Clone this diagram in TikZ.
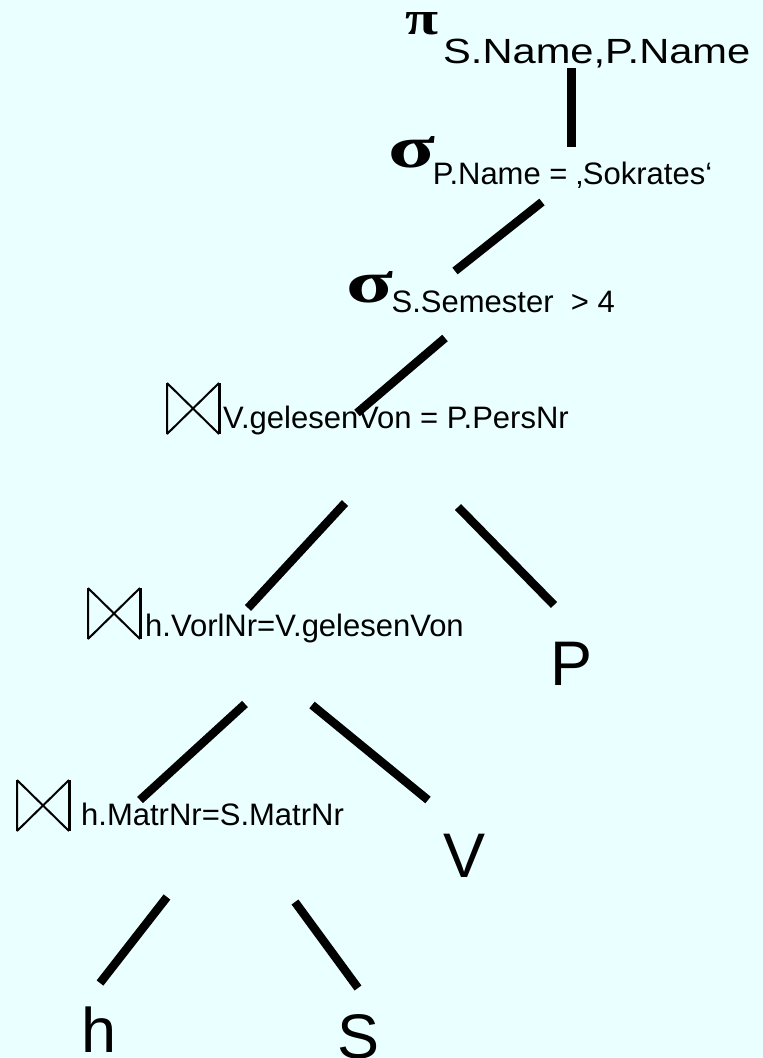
\documentclass[tikz,border=0pt]{standalone}
\usepackage{fontspec}
\setmainfont{Liberation Sans}
\newfontfamily\grk{Liberation Serif}
\definecolor{bg}{RGB}{234,255,255}
\begin{document}
\begin{tikzpicture}[x=1pt,y=-1pt,
  edge/.style={line width=8.5pt,line cap=butt},
  sub/.style={anchor=base west,inner sep=0pt,font=\fontsize{31}{36}\selectfont},
  rel/.style={anchor=base west,inner sep=0pt,font=\fontsize{63}{70}\selectfont},
  op/.style={anchor=south west,inner sep=0pt},
  joinsym/.pic={
    \draw[line width=2pt] (0,0) -- (0,51) (0,0) -- (52,51) (0,51) -- (52,0);
    \draw[line width=3pt] (52,0) -- (52,51);
  }]
\fill[bg] (0,0) rectangle (763,1058);
\useasboundingbox (0,0) rectangle (763,1058);

% projection
\node[op] (pi) at (405,35) {\resizebox{33pt}{22pt}{\grk\bfseries π}};
\node[sub,font=\fontsize{35}{40}\selectfont] (proj) at (443,63.5) {\scalebox{1.19}[1]{S.Name,P.Name}};

% selection 1
\node[op] (sig1) at (388,168.5) {\resizebox{47pt}{31pt}{\grk\bfseries σ}};
\node[sub] (sel1) at (432.6,184.3) {P.Name = ‚Sokrates‘};

% selection 2
\node[op] (sig2) at (346,303.5) {\resizebox{47pt}{31pt}{\grk\bfseries σ}};
\node[sub] (sel2) at (391.5,312.7) {S.Semester\ \ > 4};

% joins
\pic (j1) at (167,383) {joinsym};
\node[sub] (join1) at (223,428) {V.gelesenVon = P.PersNr};
\pic (j2) at (88,588) {joinsym};
\node[sub] (join2) at (145,636) {h.VorlNr=V.gelesenVon};
\pic (j3) at (17,780) {joinsym};
\node[sub] (join3) at (81,825) {h.MatrNr=S.MatrNr};

% relations
\node[rel] (P) at (550,685) {P};
\node[rel] (V) at (443,877) {V};
\node[rel] (h) at (81.5,1052) {h};
\node[rel] (S) at (337,1058) {S};

% connector end points
\coordinate (e1a) at (571,68);   \coordinate (e1b) at (571,147);
\coordinate (e2a) at (542,202);  \coordinate (e2b) at (455,271);
\coordinate (e3a) at (445,338);  \coordinate (e3b) at (357,413);
\coordinate (e4a) at (345,503);  \coordinate (e4b) at (248,608);
\coordinate (e5a) at (458,507);  \coordinate (e5b) at (554,605);
\coordinate (e6a) at (245,704);  \coordinate (e6b) at (140,800);
\coordinate (e7a) at (312,705);  \coordinate (e7b) at (428,800);
\coordinate (e8a) at (167,897);  \coordinate (e8b) at (100,983);
\coordinate (e9a) at (295,902);  \coordinate (e9b) at (358,988);

\draw[edge,line width=9pt] (e1a) -- (e1b);
\draw[edge] (e2a) -- (e2b);
\draw[edge] (e3a) -- (e3b);
\draw[edge] (e4a) -- (e4b);
\draw[edge] (e5a) -- (e5b);
\draw[edge] (e6a) -- (e6b);
\draw[edge] (e7a) -- (e7b);
\draw[edge] (e8a) -- (e8b);
\draw[edge] (e9a) -- (e9b);
\end{tikzpicture}
\end{document}
